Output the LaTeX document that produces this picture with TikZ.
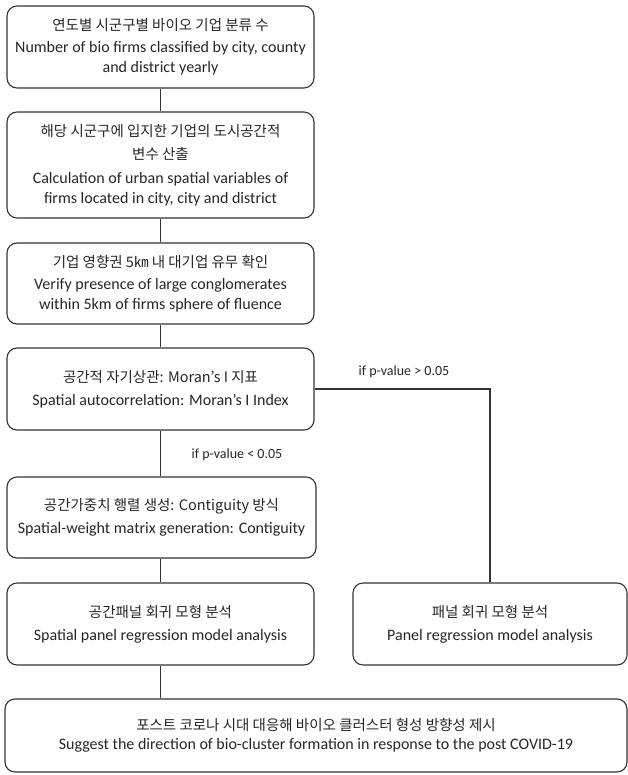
\documentclass[tikz,border=0pt]{standalone}
\usepackage{fontspec}
\setmainfont{Carlito}
\newfontfamily\kr{Noto Sans CJK KR}
\begin{document}
\begin{tikzpicture}[x=1pt,y=-1pt,
	box/.style={draw=black!80,line width=1.1pt,rounded corners=10pt,align=center,
		text=black!85,font=\fontsize{16}{20}\selectfont,inner sep=2pt},
	link/.style={draw=black!80,line width=1.1pt},
	cond/.style={text=black!85,font=\fontsize{14}{16}\selectfont}]
	\useasboundingbox (0,0) rectangle (628,775);
% boxes
	\node[box,minimum width=307,minimum height=82] (count) at (160.5,47)
		{{\kr\fontsize{14.5}{20}\selectfont 연도별 시군구별 바이오 기업 분류 수}\\[2pt]
		Number of bio firms classified by city, county\\ and district yearly};
	\node[box,minimum width=307,minimum height=106] (urban) at (160.5,165)
		{{\kr\fontsize{14.5}{20}\selectfont 해당 시군구에 입지한 기업의 도시공간적}\\[3pt]
		{\kr\fontsize{14.5}{20}\selectfont 변수 산출}\\[4pt]
		Calculation of urban spatial variables of\\ firms located in city, city and district};
	\node[box,minimum width=307,minimum height=81] (large) at (160.5,283.5)
		{{\kr\fontsize{14.5}{20}\selectfont 기업 영향권 5㎞ 내 대기업 유무 확인}\\[2pt]
		Verify presence of large conglomerates\\ within 5km of firms sphere of fluence};
	\node[box,minimum width=307,minimum height=82] (moran) at (160.5,389)
		{{\kr\fontsize{14.5}{20}\selectfont 공간적 자기상관: Moran’s I 지표}\\[3pt]
		Spatial autocorrelation: Moran’s I Index};
	\node[box,minimum width=309,minimum height=81] (weight) at (161.5,517.5)
		{{\kr\fontsize{14.5}{20}\selectfont 공간가중치 행렬 생성: Contiguity 방식}\\[3pt]
		Spatial-weight matrix generation: Contiguity};
	\node[box,minimum width=307,minimum height=82] (spanel) at (160.5,624)
		{{\kr\fontsize{14.5}{20}\selectfont 공간패널 회귀 모형 분석}\\[3pt]
		Spatial panel regression model analysis};
	\node[box,minimum width=274,minimum height=82] (panel) at (490,624)
		{{\kr\fontsize{14.5}{20}\selectfont 패널 회귀 모형 분석}\\[3pt]
		Panel regression model analysis};
	\node[box,minimum width=622,minimum height=73] (covid) at (316,735.5)
		{{\kr\fontsize{14.5}{20}\selectfont 포스트 코로나 시대 대응해 바이오 클러스터 형성 방향성 제시}\\[-1pt]
		Suggest the direction of bio-cluster formation in response to the post COVID-19};

	% conditions
	\node[cond] (pbig) at (404,372) {if p-value > 0.05};
	\node[cond] (psmall) at (237,455) {if p-value < 0.05};

	%Links
	\draw[link] (count.south) -- (urban.north);
	\draw[link] (urban.south) -- (large.north);
	\draw[link] (large.south) -- (moran.north);
	\draw[link] (moran.south) -- (moran.south |- weight.north);
	\draw[link] (moran.east) -| (panel.north);
	\draw[link] (weight.south -| spanel.north) -- (spanel.north);
	\draw[link] (spanel.south) -- (spanel.south |- covid.north);
\end{tikzpicture}
\end{document}
